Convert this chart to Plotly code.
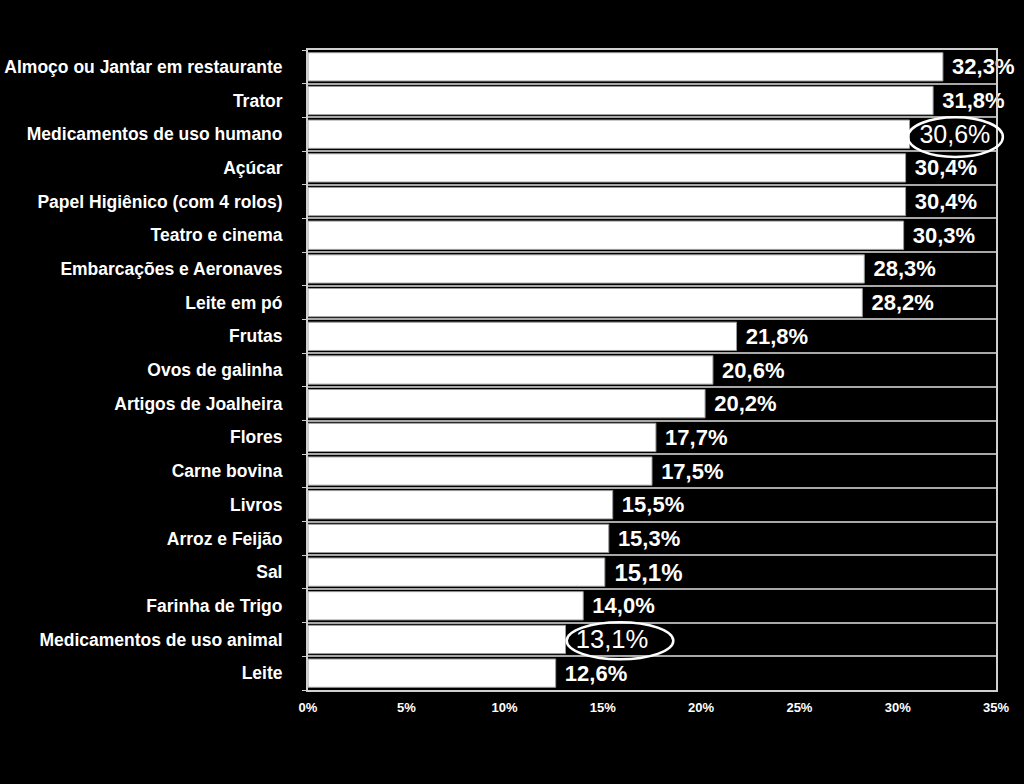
import plotly.graph_objects as go

categories = [
    "Almoço ou Jantar em restaurante",
    "Trator",
    "Medicamentos de uso humano",
    "Açúcar",
    "Papel Higiênico (com 4 rolos)",
    "Teatro e cinema",
    "Embarcações e Aeronaves",
    "Leite em pó",
    "Frutas",
    "Ovos de galinha",
    "Artigos de Joalheira",
    "Flores",
    "Carne bovina",
    "Livros",
    "Arroz e Feijão",
    "Sal",
    "Farinha de Trigo",
    "Medicamentos de uso animal",
    "Leite",
]
values = [32.3, 31.8, 30.6, 30.4, 30.4, 30.3, 28.3, 28.2, 21.8, 20.6,
          20.2, 17.7, 17.5, 15.5, 15.3, 15.1, 14.0, 13.1, 12.6]
highlighted = ["Medicamentos de uso humano", "Sal", "Medicamentos de uso animal"]
x_ticks = [0, 5, 10, 15, 20, 25, 30, 35]

positions = list(range(len(categories)))
labels = [f"{v:.1f}".replace(".", ",") + "%" for v in values]
texts = []
sizes = []
for cat, lab in zip(categories, labels):
    if cat == "Sal":
        texts.append(f"\u00a0<b>{lab}</b>")
        sizes.append(24)
    elif cat == "Medicamentos de uso animal":
        texts.append(f"\u00a0{lab}")
        sizes.append(29)
    elif cat in highlighted:
        texts.append(f"\u00a0{lab}")
        sizes.append(25)
    else:
        texts.append(f"\u00a0<b>{lab}</b>")
        sizes.append(22)

fig = go.Figure(go.Bar(
    x=values,
    y=positions,
    orientation="h",
    text=texts,
    textposition="outside",
    textfont=dict(color="white", size=sizes, family="Arial, Liberation Sans, sans-serif"),
    cliponaxis=False,
    marker=dict(color="white", line=dict(color="#9a9a9a", width=1)),
    width=0.84,
))

fig.update_layout(
    width=1024,
    height=784,
    paper_bgcolor="black",
    plot_bgcolor="black",
    margin=dict(l=308, r=28, t=50, b=94),
    showlegend=False,
    font=dict(family="Arial, Liberation Sans, sans-serif", color="white"),
)

fig.update_xaxes(
    range=[0, 35],
    tickvals=x_ticks,
    ticktext=[f"<b>{t}%</b>" for t in x_ticks],
    tickfont=dict(size=13, color="white"),
    showgrid=False,
    zeroline=False,
    showline=True,
    linecolor="#d0d0d0",
    linewidth=2,
    mirror=True,
    ticks="",
    ticklabelstandoff=4,
    automargin=False,
)

fig.update_yaxes(
    range=[len(categories) - 0.5, -0.5],
    tickvals=positions,
    ticktext=[f"<b>{c}</b>" for c in categories],
    tickfont=dict(size=17.5, color="white"),
    showgrid=False,
    zeroline=False,
    showline=True,
    linecolor="#d0d0d0",
    linewidth=2,
    mirror=True,
    ticks="",
    ticklabelstandoff=20,
    automargin=False,
    minor=dict(
        tick0=0.5,
        dtick=1,
        showgrid=True,
        gridcolor="#a8a8a8",
        gridwidth=2,
        ticks="outside",
        ticklen=4,
        tickcolor="#d0d0d0",
    ),
)

# ellipses around the highlighted labels
fig.add_shape(type="circle", xref="paper", yref="paper",
              x0=0.872, x1=1.010, y0=0.833, y1=0.895,
              line=dict(color="white", width=2.5))
fig.add_shape(type="circle", xref="paper", yref="paper",
              x0=0.376, x1=0.531, y0=0.048, y1=0.106,
              line=dict(color="white", width=2.5))

fig.write_html(
    "out.html",
    config={"displayModeBar": False},
    post_script="document.body.style.margin='0';document.body.style.background='black';",
)
